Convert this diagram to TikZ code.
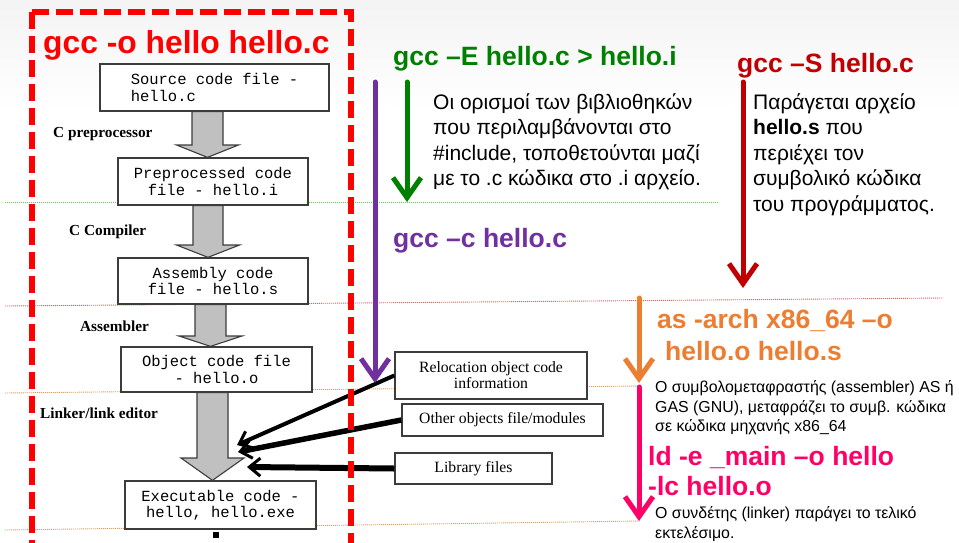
\documentclass[tikz,border=0pt]{standalone}
\usepackage{fontspec}
\setmainfont{Liberation Sans}
\newfontfamily\serifont{Liberation Serif}
\setmonofont{Liberation Mono}
\usetikzlibrary{arrows.meta,calc}
\definecolor{cred}{RGB}{255,0,0}
\definecolor{cgreen}{RGB}{0,128,0}
\definecolor{cpurple}{RGB}{112,48,160}
\definecolor{cdred}{RGB}{192,0,0}
\definecolor{corange}{RGB}{237,125,49}
\definecolor{cpink}{RGB}{255,0,102}
\definecolor{boxline}{RGB}{60,60,60}
\definecolor{arrgray}{RGB}{192,192,192}
\definecolor{dotgreen}{RGB}{110,190,110}
\definecolor{dotred}{RGB}{240,90,90}
\definecolor{dotorange}{RGB}{240,150,90}
\newcommand\blockarr[6]{%
  \coordinate (tmpc) at (#3,#4);
  \draw[blockarrow] ($(#1.south -| tmpc)+(-#5,0)$) -- ($(#1.south -| tmpc)+(#5,0)$)
    -- ($(tmpc)+(#5,0)$) -- ($(tmpc)+(#6,0)$) -- (#2.north -| tmpc)
    -- ($(tmpc)+(-#6,0)$) -- ($(tmpc)+(-#5,0)$) -- cycle;}
\begin{document}
\begin{tikzpicture}[x=1pt,y=-1pt,
  cmd/.style={font=\fontsize{26.5}{30}\selectfont\bfseries, anchor=base west, inner sep=0},
  txtline/.style={font=\fontsize{21}{25}\selectfont, anchor=base west, inner sep=0},
  smallline/.style={font=\fontsize{15.9}{19}\selectfont, anchor=base west, inner sep=0},
  flowbox/.style={draw=boxline, line width=1.3pt, fill=white, align=center, inner sep=0,
     font=\ttfamily\fontsize{15.5}{16.5}\selectfont},
  refbox/.style={draw=boxline, line width=1.3pt, fill=white, align=center, inner sep=0,
     font=\serifont\fontsize{15.7}{16}\selectfont},
  stagelbl/.style={font=\serifont\bfseries\fontsize{15.3}{16}\selectfont, anchor=base west, inner sep=0},
  blockarrow/.style={draw=boxline, line width=1.1pt, fill=arrgray, line join=miter},
  dotline/.style={line width=0.9pt, dash pattern=on 1pt off 1pt},
  colarrow/.style={line width=5pt, -{Straight Barb[length=20pt,width=28pt]}, line cap=round, line join=round},
  blkarrow/.style={black, -{Straight Barb[length=11pt,width=18pt,line width=3pt]}}
]
\useasboundingbox (0,0) rectangle (959,542);
\clip (0,0) rectangle (959,542);
\fill[white] (0,0) rectangle (959,542);
\fill[top color=gray!9, bottom color=white] (0,0) rectangle (959,110);

% slide guide lines
\draw[dotline, dotgreen] (5,202) -- (718,202);
\draw[dotline, dotred] (5,306) -- (943,298);
\draw[dotline, dotorange] (5,393) -- (640,386);
\draw[dotline, dotorange] (5,530) -- (640,521);

% flow chart boxes
\node[flowbox, minimum width=229pt, minimum height=47pt, align=left] (b1) at (214.5,87.5) {Source code file -\\hello.c};
\node[flowbox, minimum width=190pt, minimum height=47pt] (b2) at (213,181.5) {Preprocessed code\\file - hello.i};
\node[flowbox, minimum width=190pt, minimum height=46pt] (b3) at (213,281) {Assembly code\\file - hello.s};
\node[flowbox, minimum width=191pt, minimum height=45pt] (b4) at (216.5,369.5) {Object code file\\- hello.o};
\node[flowbox, minimum width=191pt, minimum height=48pt] (b5) at (220.5,505) {Executable code -\\hello, hello.exe};

\blockarr{b1}{b2}{207.5}{145}{15.5}{31}
\blockarr{b2}{b3}{208}{245}{15}{31.5}
\blockarr{b3}{b4}{210.5}{336}{15.5}{31.5}
\blockarr{b4}{b5}{212.5}{458}{15.5}{31.5}

\node[stagelbl] (l1) at (53,137) {C preprocessor};
\node[stagelbl] (l2) at (69,235) {C Compiler};
\node[stagelbl] (l3) at (80,331) {Assembler};
\node[stagelbl] (l4) at (40,418) {Linker/link editor};

\fill[black] (213,532) rectangle (219,538);

% linker inputs
\node[refbox, minimum width=192pt, minimum height=47pt] (r1) at (491,375.5) {Relocation object code\\information};
\node[refbox, minimum width=201pt, minimum height=32pt] (r2) at (502.5,420) {Other objects file/modules};
\node[refbox, minimum width=157pt, minimum height=31pt] (r3) at (473.5,468.5) {Library files};

\coordinate (t1) at (237,445);
\coordinate (t2) at (238,452);
\coordinate (t3) at (247,467);
\draw[blkarrow, line width=4pt] (r1.west) -- (t1);
\draw[blkarrow, line width=5.5pt] (r2.west) -- (t2);
\draw[blkarrow, line width=6pt] (r3.west) -- (t3);

% red dashed frame
\draw[cred, line width=6pt, dash pattern=on 17pt off 7pt] (31.5,11.5) -- (31.5,560);
\draw[cred, line width=6pt, dash pattern=on 17pt off 7pt] (31.5,11.5) -- (350.5,11.5) -- (350.5,560);

% command texts
\node[cmd, font=\fontsize{31.8}{34}\selectfont\bfseries, text=cred] (c0) at (43,53) {gcc -o hello hello.c};
\node[cmd, text=cgreen] (c1) at (393,65) {gcc –E hello.c > hello.i};
\node[cmd, text=cdred] (c2) at (737,72) {gcc –S hello.c};
\node[cmd, text=cpurple] (c3) at (393,247) {gcc –c hello.c};
\node[cmd, text=corange] (c4a) at (657,328) {as -arch x86\_64 –o};
\node[cmd, text=corange] (c4b) at (665,360) {hello.o hello.s};
\node[cmd, text=cpink] (c5a) at (648,465) {ld -e \_main –o hello};
\node[cmd, text=cpink] (c5b) at (648,495) {-lc hello.o};

% colored arrows
\coordinate (pS) at (375,82);  \coordinate (pE) at (375,383);
\coordinate (gS) at (407,82);  \coordinate (gE) at (407,202);
\coordinate (dS) at (743,82);  \coordinate (dE) at (743,288);
\coordinate (oS) at (639,298); \coordinate (oE) at (639,383);
\coordinate (kS) at (639,387); \coordinate (kE) at (639,521);
\draw[colarrow, cpurple] (pS) -- (pE);
\draw[colarrow, cgreen] (gS) -- (gE);
\draw[colarrow, cdred] (dS) -- (dE);
\draw[colarrow, corange] (oS) -- (oE);
\draw[colarrow, cpink] (kS) -- (kE);

% descriptions
\node[txtline] (g1) at (433,109) {Οι ορισμοί των βιβλιοθηκών};
\node[txtline] (g2) at (433,134.5) {που περιλαμβάνονται στο};
\node[txtline] (g3) at (433,160) {\#include, τοποθετούνται μαζί};
\node[txtline] (g4) at (433,185) {με το .c κώδικα στο .i αρχείο.};

\node[txtline] (s1) at (753,109) {Παράγεται αρχείο};
\node[txtline] (s2) at (753,134.5) {\textbf{hello.s} που};
\node[txtline] (s3) at (753,160) {περιέχει τον};
\node[txtline] (s4) at (753,185.5) {συμβολικό κώδικα};
\node[txtline] (s5) at (753,211) {του προγράμματος.};

\node[smallline] (a1) at (655,392) {Ο συμβολομεταφραστής (assembler) AS ή};
\node[smallline] (a2) at (655,412) {GAS (GNU), μεταφράζει το συμβ. κώδικα};
\node[smallline] (a3) at (655,431) {σε κώδικα μηχανής x86\_64};

\node[smallline] (k1) at (655,518) {Ο συνδέτης (linker) παράγει το τελικό};
\node[smallline] (k2) at (655,538) {εκτελέσιμο.};
\end{tikzpicture}
\end{document}
